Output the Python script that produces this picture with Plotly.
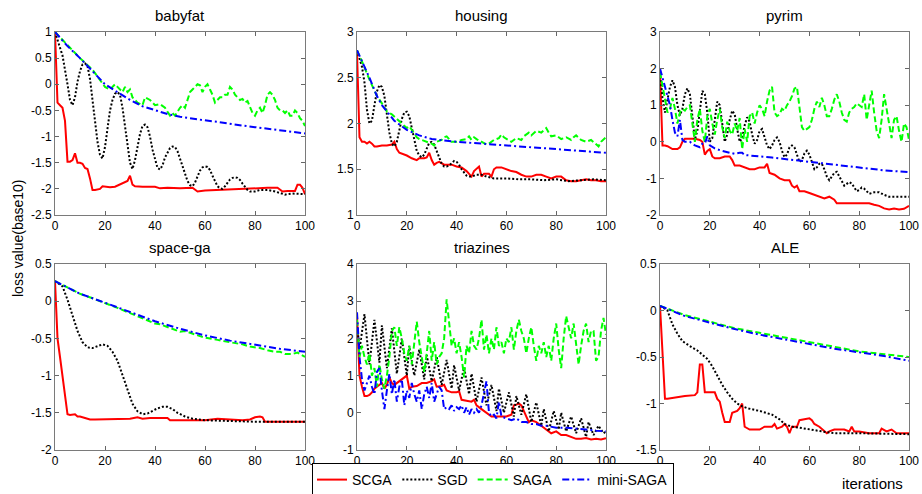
import plotly.graph_objects as go

# ---------------- data (iteration, log10 loss) ----------------
babyfat_scga = [(0,1),(1,-0.35),(2,-0.4),(3,-0.45),(4,-0.7),(5,-1.48),(6,-1.48),(7,-1.45),(8,-1.32),(9,-1.5),(10,-1.5),(11,-1.52),(12,-1.6),(13,-1.62),(14,-1.8),(15,-2.02),(16,-2.02),(18,-2.0),(19,-1.95),(20,-1.96),(22,-1.97),(24,-1.96),(26,-1.92),(28,-1.88),(29,-1.85),(30,-1.75),(31,-1.92),(32,-1.95),(35,-1.96),(40,-1.96),(42,-1.99),(45,-1.98),(50,-1.99),(55,-1.98),(57,-2.05),(60,-2.03),(65,-2.02),(70,-2.0),(75,-2.0),(80,-1.98),(85,-1.98),(89,-1.98),(91,-2.05),(93,-2.04),(96,-2.04),(97,-1.92),(98,-1.92),(99,-1.98),(100,-2.1)]
babyfat_sgd = [(0,1),(3,0.55),(5,0.0),(6,-0.3),(7,-0.4),(8,-0.25),(9,0.05),(10,0.25),(11,0.38),(12,0.4),(13,0.35),(14,0.1),(15,-0.3),(16,-0.7),(17,-1.1),(18,-1.35),(19,-1.42),(20,-1.2),(21,-0.8),(22,-0.5),(23,-0.3),(24,-0.18),(25,-0.15),(26,-0.2),(27,-0.45),(28,-0.8),(29,-1.2),(30,-1.5),(31,-1.62),(32,-1.45),(33,-1.2),(34,-0.95),(35,-0.8),(36,-0.77),(37,-0.82),(38,-1.0),(39,-1.25),(40,-1.45),(41,-1.6),(42,-1.63),(43,-1.55),(44,-1.4),(45,-1.3),(46,-1.22),(47,-1.19),(48,-1.2),(49,-1.28),(50,-1.42),(51,-1.58),(52,-1.72),(53,-1.85),(54,-1.93),(55,-1.95),(56,-1.88),(57,-1.75),(58,-1.65),(59,-1.59),(60,-1.57),(61,-1.58),(62,-1.64),(63,-1.75),(64,-1.85),(65,-1.95),(66,-1.99),(67,-2.0),(68,-1.95),(69,-1.88),(70,-1.82),(71,-1.79),(72,-1.78),(73,-1.79),(74,-1.83),(75,-1.9),(76,-1.96),(77,-2.02),(78,-2.05),(80,-2.05),(82,-2.02),(85,-2.02),(88,-2.05),(90,-2.08),(92,-2.11),(95,-2.09),(98,-2.1),(100,-2.1)]
babyfat_saga = [(0,1),(5,0.75),(10,0.5),(15,0.28),(20,-0.05),(22,-0.1),(24,0.0),(25,-0.05),(26,-0.1),(27,-0.15),(28,-0.05),(29,-0.15),(30,-0.1),(31,-0.25),(33,-0.35),(35,-0.4),(36,-0.25),(38,-0.3),(40,-0.4),(42,-0.38),(44,-0.45),(46,-0.6),(47,-0.55),(48,-0.6),(50,-0.45),(51,-0.4),(52,-0.45),(53,-0.3),(54,-0.15),(55,-0.1),(56,-0.05),(57,0.0),(58,-0.02),(59,-0.15),(60,-0.05),(61,0.0),(62,-0.1),(63,-0.2),(64,-0.35),(65,-0.3),(66,-0.25),(67,-0.25),(68,-0.2),(69,-0.2),(70,-0.05),(71,-0.1),(72,-0.2),(73,-0.25),(74,-0.3),(75,-0.28),(76,-0.35),(77,-0.32),(78,-0.45),(79,-0.55),(80,-0.6),(81,-0.5),(82,-0.45),(83,-0.55),(84,-0.4),(85,-0.2),(86,-0.15),(87,-0.2),(88,-0.3),(89,-0.45),(90,-0.5),(91,-0.5),(92,-0.55),(93,-0.5),(94,-0.6),(95,-0.6),(96,-0.5),(97,-0.55),(98,-0.65),(99,-0.7),(100,-0.8)]
babyfat_mini = [(0,1),(5,0.73),(10,0.5),(15,0.25),(20,0.0),(25,-0.15),(30,-0.3),(35,-0.42),(40,-0.5),(45,-0.57),(50,-0.62),(55,-0.66),(60,-0.69),(65,-0.72),(70,-0.76),(75,-0.79),(80,-0.82),(85,-0.85),(90,-0.88),(95,-0.91),(100,-0.94)]

housing_scga = [(0,2.78),(1,1.85),(2,1.8),(3,1.8),(4,1.78),(5,1.8),(6,1.78),(7,1.75),(8,1.75),(10,1.76),(12,1.76),(14,1.77),(15,1.8),(16,1.72),(17,1.68),(18,1.67),(20,1.65),(22,1.62),(24,1.6),(25,1.62),(27,1.62),(28,1.63),(29,1.68),(30,1.6),(31,1.55),(32,1.57),(33,1.58),(35,1.55),(38,1.55),(40,1.53),(42,1.52),(44,1.48),(46,1.42),(47,1.48),(48,1.5),(49,1.53),(50,1.42),(51,1.45),(53,1.45),(54,1.42),(55,1.5),(56,1.52),(58,1.52),(60,1.5),(62,1.48),(64,1.47),(66,1.44),(68,1.42),(70,1.42),(72,1.44),(74,1.44),(76,1.42),(78,1.4),(80,1.42),(82,1.42),(84,1.38),(86,1.37),(88,1.37),(90,1.38),(92,1.39),(94,1.38),(96,1.38),(98,1.37),(100,1.37)]
housing_sgd = [(0,2.8),(1,2.72),(2,2.62),(3,2.45),(4,2.15),(5,2.0),(6,2.03),(7,2.2),(8,2.35),(9,2.42),(10,2.4),(11,2.3),(12,2.1),(13,1.9),(14,1.78),(15,1.75),(16,1.8),(17,1.92),(18,2.05),(19,2.12),(20,2.13),(21,2.08),(22,1.95),(23,1.8),(24,1.7),(25,1.65),(26,1.63),(27,1.66),(28,1.73),(29,1.79),(30,1.8),(31,1.77),(32,1.7),(33,1.62),(34,1.56),(35,1.53),(36,1.53),(37,1.54),(38,1.57),(39,1.59),(40,1.58),(41,1.55),(42,1.5),(43,1.46),(44,1.43),(45,1.42),(46,1.42),(48,1.44),(50,1.44),(52,1.42),(55,1.4),(60,1.4),(65,1.39),(70,1.39),(75,1.38),(80,1.39),(85,1.37),(90,1.38),(95,1.39),(100,1.38)]
housing_saga = [(0,2.8),(2,2.68),(5,2.48),(8,2.3),(10,2.22),(12,2.13),(14,2.1),(16,2.05),(18,2.0),(20,1.95),(21,1.97),(22,1.93),(24,1.85),(25,1.83),(26,1.82),(28,1.8),(30,1.78),(31,1.76),(32,1.8),(34,1.82),(35,1.85),(36,1.86),(37,1.83),(38,1.8),(40,1.8),(42,1.82),(44,1.83),(45,1.86),(46,1.82),(47,1.85),(48,1.83),(50,1.8),(52,1.77),(53,1.78),(55,1.82),(57,1.84),(58,1.88),(59,1.85),(60,1.83),(62,1.8),(64,1.84),(66,1.82),(67,1.86),(69,1.9),(70,1.87),(72,1.92),(74,1.9),(76,1.95),(77,1.9),(78,1.86),(80,1.87),(82,1.83),(84,1.85),(86,1.82),(87,1.85),(88,1.87),(90,1.82),(92,1.8),(94,1.82),(96,1.77),(97,1.75),(98,1.8),(100,1.85)]
housing_mini = [(0,2.8),(2,2.68),(5,2.5),(8,2.3),(10,2.2),(15,2.03),(20,1.93),(25,1.87),(30,1.83),(40,1.8),(50,1.78),(60,1.76),(70,1.74),(80,1.72),(90,1.7),(100,1.68)]

pyrim_scga = [(0,1.9),(1,-0.1),(2,-0.1),(3,-0.12),(5,-0.2),(7,-0.2),(8,-0.15),(9,0.0),(10,0.08),(12,0.08),(14,0.08),(16,0.05),(17,0.0),(18,-0.35),(19,-0.25),(20,-0.2),(21,-0.4),(22,-0.45),(24,-0.45),(26,-0.4),(28,-0.4),(29,-0.5),(30,-0.65),(32,-0.65),(34,-0.7),(36,-0.75),(38,-0.75),(40,-0.7),(42,-0.7),(43,-0.6),(44,-0.85),(46,-0.9),(48,-1.0),(50,-1.05),(52,-1.05),(53,-1.2),(54,-1.25),(55,-1.2),(56,-1.35),(58,-1.35),(60,-1.4),(62,-1.45),(64,-1.5),(66,-1.55),(68,-1.5),(70,-1.58),(71,-1.68),(74,-1.68),(76,-1.68),(78,-1.66),(82,-1.66),(84,-1.68),(86,-1.72),(88,-1.75),(90,-1.82),(92,-1.85),(94,-1.82),(96,-1.85),(98,-1.83),(100,-1.75)]
pyrim_sgd = [(0,1.9),(1,1.2),(2,0.8),(3,1.2),(4,1.5),(5,1.68),(6,1.5),(7,1.0),(8,0.72),(9,0.9),(10,1.3),(11,1.46),(12,1.3),(13,0.7),(14,0.05),(15,0.3),(16,0.9),(17,1.39),(18,1.3),(19,0.8),(20,0.0),(21,0.1),(22,0.6),(23,1.1),(24,1.0),(25,0.5),(26,0.0),(27,0.2),(28,0.6),(29,0.85),(30,0.75),(31,0.35),(32,0.0),(33,0.1),(34,0.45),(35,0.67),(36,0.55),(37,0.2),(38,-0.05),(39,0.05),(40,0.3),(41,0.35),(42,0.15),(43,-0.1),(44,-0.2),(45,-0.1),(46,0.05),(47,0.12),(48,0.0),(49,-0.25),(50,-0.42),(51,-0.35),(52,-0.15),(53,-0.1),(54,-0.15),(55,-0.35),(56,-0.55),(57,-0.5),(58,-0.32),(59,-0.24),(60,-0.35),(61,-0.55),(62,-0.75),(63,-0.7),(64,-0.6),(65,-0.6),(66,-0.75),(67,-0.95),(68,-1.05),(69,-0.95),(70,-0.85),(71,-0.82),(72,-0.95),(73,-1.1),(74,-1.2),(75,-1.15),(76,-1.1),(77,-1.14),(78,-1.25),(79,-1.35),(80,-1.32),(81,-1.25),(82,-1.28),(83,-1.35),(84,-1.42),(86,-1.38),(88,-1.38),(90,-1.45),(92,-1.5),(95,-1.5),(100,-1.5)]
pyrim_saga = [(0,1.9),(1,1.5),(2,1.2),(3,0.8),(4,0.9),(5,1.2),(6,0.9),(7,0.5),(8,0.8),(9,0.9),(10,0.85),(11,0.95),(12,1.0),(13,0.5),(14,0.0),(15,0.6),(16,0.9),(17,0.3),(18,0.0),(19,0.7),(20,0.9),(21,0.5),(22,0.2),(23,0.6),(24,0.9),(25,0.4),(26,0.1),(27,0.55),(28,0.3),(29,0.2),(30,0.5),(31,0.3),(32,0.65),(33,-0.2),(34,0.35),(35,0.0),(36,0.7),(37,0.8),(38,0.5),(39,0.8),(40,1.0),(41,0.9),(42,0.7),(43,1.1),(44,1.4),(45,1.5),(46,0.8),(47,0.7),(48,0.75),(49,0.9),(50,0.85),(51,1.0),(52,1.1),(53,1.25),(54,1.45),(55,1.5),(56,1.0),(57,0.4),(58,0.3),(59,0.35),(60,0.4),(61,0.6),(62,0.9),(63,1.1),(64,0.95),(65,1.2),(66,1.0),(67,0.7),(68,0.7),(69,0.9),(70,1.15),(71,1.3),(72,1.1),(73,0.8),(74,0.6),(75,0.55),(76,0.8),(77,0.9),(78,0.95),(79,1.05),(80,1.0),(81,0.95),(82,1.3),(83,0.6),(84,1.0),(85,1.4),(86,0.8),(87,0.3),(88,0.1),(89,0.6),(90,1.3),(91,0.9),(92,0.4),(93,0.1),(94,0.6),(95,0.7),(96,0.3),(97,0.0),(98,0.5),(99,0.4),(100,0.05)]
pyrim_mini = [(0,2.0),(2,1.5),(4,1.0),(5,0.6),(6,0.25),(7,0.15),(8,0.6),(9,0.05),(10,0.0),(12,0.0),(14,-0.1),(16,-0.15),(17,-0.05),(18,-0.05),(19,0.15),(20,-0.1),(22,-0.18),(25,-0.25),(30,-0.33),(32,-0.3),(33,-0.3),(34,-0.36),(36,-0.38),(40,-0.4),(45,-0.43),(50,-0.47),(55,-0.5),(60,-0.55),(70,-0.63),(80,-0.7),(90,-0.78),(100,-0.83)]

spacega_scga = [(0,0.27),(1,-0.5),(2,-0.75),(3,-1.0),(4,-1.3),(5,-1.52),(6,-1.53),(7,-1.53),(8,-1.52),(9,-1.55),(10,-1.55),(12,-1.57),(14,-1.59),(16,-1.59),(20,-1.59),(25,-1.58),(30,-1.58),(33,-1.56),(35,-1.58),(38,-1.57),(42,-1.57),(45,-1.57),(46,-1.6),(50,-1.6),(55,-1.6),(60,-1.6),(65,-1.58),(70,-1.59),(75,-1.6),(78,-1.59),(80,-1.56),(82,-1.55),(83,-1.56),(84,-1.62),(90,-1.62),(100,-1.62)]
spacega_sgd = [(0,0.27),(3,0.2),(5,0.02),(7,-0.2),(9,-0.4),(11,-0.55),(13,-0.62),(15,-0.63),(17,-0.6),(19,-0.58),(21,-0.6),(23,-0.68),(25,-0.8),(27,-1.0),(29,-1.2),(31,-1.38),(33,-1.48),(35,-1.52),(37,-1.51),(39,-1.47),(41,-1.44),(43,-1.42),(45,-1.42),(47,-1.45),(49,-1.5),(52,-1.55),(55,-1.58),(60,-1.6),(65,-1.6),(70,-1.61),(80,-1.62),(100,-1.62)]
spacega_saga = [(0,0.27),(5,0.19),(10,0.1),(15,0.04),(20,-0.02),(25,-0.09),(30,-0.16),(35,-0.23),(38,-0.28),(40,-0.3),(42,-0.31),(45,-0.35),(48,-0.38),(50,-0.41),(52,-0.4),(55,-0.44),(58,-0.47),(60,-0.49),(62,-0.5),(65,-0.52),(68,-0.54),(70,-0.55),(72,-0.57),(75,-0.58),(78,-0.61),(80,-0.62),(82,-0.63),(85,-0.66),(88,-0.68),(90,-0.68),(92,-0.71),(95,-0.71),(97,-0.69),(100,-0.75)]
spacega_mini = [(0,0.27),(10,0.1),(20,-0.02),(30,-0.15),(40,-0.27),(50,-0.37),(60,-0.46),(70,-0.53),(80,-0.59),(90,-0.64),(100,-0.68)]

triazines_scga = [(0,2.6),(1,1.0),(2,0.7),(3,0.45),(4,0.45),(5,0.48),(6,0.55),(7,0.65),(8,0.7),(9,0.75),(10,0.8),(11,0.65),(12,0.75),(13,0.95),(14,0.8),(15,0.75),(16,0.8),(17,0.85),(18,0.9),(19,0.95),(20,1.0),(21,0.65),(22,0.7),(24,0.72),(26,0.8),(28,0.8),(30,0.85),(31,0.9),(32,0.7),(34,0.72),(35,0.75),(36,0.6),(38,0.55),(40,0.55),(41,0.58),(42,0.35),(44,0.33),(46,0.3),(47,0.35),(48,0.2),(50,0.1),(52,0.0),(54,-0.1),(56,-0.1),(58,-0.1),(60,-0.1),(62,-0.05),(63,0.2),(64,0.22),(65,0.25),(66,0.2),(68,-0.1),(69,-0.25),(70,-0.2),(72,-0.25),(74,-0.35),(76,-0.45),(78,-0.55),(80,-0.5),(82,-0.6),(84,-0.6),(86,-0.65),(88,-0.7),(90,-0.7),(92,-0.68),(94,-0.72),(96,-0.7),(98,-0.72),(100,-0.68)]
triazines_sgd = [(0,2.4),(1,1.7),(3,2.65),(5,1.3),(7,2.5),(9,1.35),(10,2.35),(12,1.2),(14,2.27),(16,1.05),(18,2.0),(20,1.0),(21,1.8),(23,1.0),(25,1.7),(27,0.9),(28,1.55),(30,0.85),(32,1.5),(34,0.75),(36,1.42),(38,0.65),(39,1.28),(41,0.6),(43,1.22),(45,0.5),(46,1.05),(48,0.3),(50,0.95),(52,0.2),(54,0.75),(56,0.05),(57,0.65),(59,0.0),(61,0.55),(63,-0.1),(64,0.45),(66,-0.05),(68,0.5),(70,-0.25),(72,0.28),(74,-0.35),(75,0.1),(77,-0.5),(79,0.05),(81,-0.45),(82,0.0),(84,-0.5),(86,-0.1),(88,-0.55),(90,-0.15),(92,-0.65),(93,-0.25),(95,-0.6),(97,-0.35),(99,-0.55),(100,-0.5)]
triazines_saga = [(0,2.5),(1,1.5),(2,1.8),(3,1.5),(4,1.3),(5,1.6),(6,1.0),(7,1.2),(8,0.7),(9,1.3),(10,0.9),(11,0.65),(12,1.0),(13,1.5),(14,2.2),(15,2.3),(16,1.8),(17,2.3),(18,2.0),(19,1.6),(20,1.4),(21,1.8),(22,1.3),(23,1.9),(24,2.45),(25,1.9),(26,1.5),(27,1.1),(28,1.6),(29,2.2),(30,1.4),(31,1.9),(32,1.3),(33,1.5),(34,1.6),(35,2.0),(36,3.05),(37,2.5),(38,1.8),(39,2.0),(40,1.6),(41,1.9),(42,1.5),(43,0.95),(44,1.8),(45,1.6),(46,2.2),(47,1.8),(48,1.7),(49,2.0),(50,2.5),(51,1.7),(52,2.1),(53,1.6),(54,2.0),(55,1.7),(56,2.3),(57,1.8),(58,1.9),(59,1.6),(60,2.0),(61,1.9),(62,2.3),(63,1.7),(64,2.2),(65,2.5),(66,2.2),(67,2.0),(68,1.6),(69,2.0),(70,2.3),(71,1.8),(72,1.4),(73,1.8),(74,1.6),(75,1.9),(76,1.5),(77,1.8),(78,1.4),(79,2.0),(80,2.4),(81,1.7),(82,1.2),(83,2.0),(84,2.6),(85,2.3),(86,2.0),(87,2.4),(88,1.8),(89,1.3),(90,1.8),(91,2.2),(92,2.4),(93,1.9),(94,2.2),(95,2.2),(96,1.4),(97,1.5),(98,2.2),(99,2.55),(100,2.1)]
triazines_mini = [(0,2.7),(1,1.5),(2,0.9),(3,0.6),(4,0.8),(5,1.0),(6,0.7),(7,0.5),(8,1.1),(9,1.2),(10,0.6),(11,0.1),(12,0.6),(13,1.05),(14,0.5),(15,0.9),(16,0.3),(17,0.7),(18,0.9),(19,0.2),(20,0.6),(21,0.4),(22,0.8),(23,0.5),(24,0.3),(25,0.6),(26,0.1),(27,0.5),(28,0.7),(29,0.4),(30,0.8),(31,0.3),(32,0.5),(33,0.7),(34,0.6),(35,0.1),(36,0.15),(37,0.1),(38,0.2),(39,0.05),(40,0.15),(41,0.1),(42,0.2),(43,0.0),(44,0.15),(45,-0.05),(46,0.1),(47,0.0),(48,0.1),(49,0.0),(50,0.2),(51,0.5),(52,0.85),(53,0.0),(54,-0.1),(55,-0.05),(56,-0.15),(57,0.3),(58,-0.1),(60,-0.15),(62,-0.2),(64,-0.15),(66,-0.25),(68,-0.25),(70,-0.3),(72,-0.3),(74,-0.35),(76,-0.35),(78,-0.38),(80,-0.4),(84,-0.4),(88,-0.42),(92,-0.45),(96,-0.48),(100,-0.5)]

ale_scga = [(0,0.05),(1,-0.5),(2,-0.95),(3,-0.95),(5,-0.94),(10,-0.92),(14,-0.91),(15,-0.88),(16,-0.58),(17,-0.58),(18,-0.88),(20,-0.88),(22,-0.88),(23,-0.95),(24,-0.98),(25,-1.1),(26,-1.2),(28,-1.2),(29,-1.1),(31,-1.08),(32,-1.05),(33,-1.0),(34,-1.25),(36,-1.28),(40,-1.28),(42,-1.25),(45,-1.25),(46,-1.22),(47,-1.27),(49,-1.25),(50,-1.22),(51,-1.25),(52,-1.32),(53,-1.25),(55,-1.25),(56,-1.18),(58,-1.17),(60,-1.16),(61,-1.18),(62,-1.22),(64,-1.25),(66,-1.3),(67,-1.32),(68,-1.3),(70,-1.28),(74,-1.28),(76,-1.3),(77,-1.25),(78,-1.3),(80,-1.3),(84,-1.32),(88,-1.32),(89,-1.27),(91,-1.3),(93,-1.28),(95,-1.32),(100,-1.32)]
ale_sgd = [(0,0.05),(3,0.0),(5,-0.15),(7,-0.25),(9,-0.33),(11,-0.37),(13,-0.4),(15,-0.43),(17,-0.47),(19,-0.52),(21,-0.6),(23,-0.7),(25,-0.8),(27,-0.88),(29,-0.95),(31,-1.0),(33,-1.03),(35,-1.05),(40,-1.08),(45,-1.12),(48,-1.17),(50,-1.22),(53,-1.25),(56,-1.26),(60,-1.28),(65,-1.3),(70,-1.32),(80,-1.32),(100,-1.33)]
ale_saga = [(0,0.05),(10,-0.05),(20,-0.12),(30,-0.19),(40,-0.24),(50,-0.29),(60,-0.34),(70,-0.39),(80,-0.44),(90,-0.47),(100,-0.5)]
ale_mini = [(0,0.05),(10,-0.06),(20,-0.13),(30,-0.2),(40,-0.26),(50,-0.31),(60,-0.36),(70,-0.41),(80,-0.45),(90,-0.49),(100,-0.54)]

titles = ["babyfat", "housing", "pyrim", "space-ga", "triazines", "ALE"]
method_names = ["SCGA", "SGD", "SAGA", "mini-SAGA"]
x_ticks = [0, 20, 40, 60, 80, 100]
y_ticks = [
    [-2.5, -2, -1.5, -1, -0.5, 0, 0.5, 1],
    [1, 1.5, 2, 2.5, 3],
    [-2, -1, 0, 1, 2, 3],
    [-2, -1.5, -1, -0.5, 0, 0.5],
    [-1, 0, 1, 2, 3, 4],
    [-1.5, -1, -0.5, 0, 0.5],
]
y_tick_labels = [
    ["-2.5", "-2", "-1.5", "-1", "-0.5", "0", "0.5", "1"],
    ["1", "1.5", "2", "2.5", "3"],
    ["-2", "-1", "0", "1", "2", "3"],
    ["-2", "-1.5", "-1", "-0.5", "0", "0.5"],
    ["-1", "0", "1", "2", "3", "4"],
    ["-1.5", "-1", "-0.5", "0", "0.5"],
]

series = [
    [babyfat_scga, babyfat_sgd, babyfat_saga, babyfat_mini],
    [housing_scga, housing_sgd, housing_saga, housing_mini],
    [pyrim_scga, pyrim_sgd, pyrim_saga, pyrim_mini],
    [spacega_scga, spacega_sgd, spacega_saga, spacega_mini],
    [triazines_scga, triazines_sgd, triazines_saga, triazines_mini],
    [ale_scga, ale_sgd, ale_saga, ale_mini],
]

# ---------------- styling ----------------
W, H = 922, 494
FONT = "Liberation Sans, Arial, sans-serif"
styles = [
    dict(color="#ff0000", width=2, dash="solid"),
    dict(color="#000000", width=2, dash="2px,2px"),
    dict(color="#00ff00", width=2, dash="6px,3px"),
    dict(color="#0000ff", width=2, dash="7px,3px,2px,3px"),
]
# pixel boxes of the panels (left, right, top, bottom)
col_px = [(55, 305), (357, 606), (660, 909)]
row_px = [(32, 215), (264, 450)]

fig = go.Figure()
layout = dict(
    width=W, height=H,
    margin=dict(l=0, r=0, t=0, b=0, pad=0, autoexpand=False),
    paper_bgcolor="white", plot_bgcolor="white",
    font=dict(family=FONT, size=12, color="black"),
    showlegend=True,
    legend=dict(orientation="h", x=312 / W, y=1 - 480 / H, xanchor="left", yanchor="middle",
                bordercolor="black", borderwidth=1, bgcolor="white",
                font=dict(family=FONT, size=14, color="black"),
                itemwidth=30, tracegroupgap=0),
)
annotations = []
for i in range(6):
    r, c = divmod(i, 3)
    xl, xr = col_px[c]
    yt, yb = row_px[r]
    ax = "" if i == 0 else str(i + 1)
    for k, data in enumerate(series[i]):
        xs = [p[0] for p in data]
        ys = [p[1] for p in data]
        fig.add_trace(go.Scatter(
            x=xs, y=ys, mode="lines", name=method_names[k], line=styles[k],
            xaxis="x" + ax, yaxis="y" + ax, legendgroup=method_names[k],
            showlegend=(i == 0)))
    common = dict(ticks="inside", ticklen=4, tickcolor="#666666", tickwidth=1,
                  showline=True, linecolor="#7a7a7a", linewidth=1, mirror="ticks",
                  showgrid=False, zeroline=False, automargin=False,
                  tickfont=dict(family=FONT, size=12, color="black"))
    layout["xaxis" + ax] = dict(domain=[xl / W, xr / W], range=[0, 100],
                                tickvals=x_ticks, ticktext=[str(t) for t in x_ticks],
                                anchor="y" + ax, **common)
    layout["yaxis" + ax] = dict(domain=[1 - yb / H, 1 - yt / H],
                                range=[y_ticks[i][0], y_ticks[i][-1]],
                                tickvals=y_ticks[i], ticktext=y_tick_labels[i],
                                anchor="x" + ax, **common)
    annotations.append(dict(text=titles[i], x=(xl + xr) / 2 / W, y=1 - (yt - 16) / H,
                            xref="paper", yref="paper", showarrow=False,
                            font=dict(family=FONT, size=15, color="black", weight="normal"),
                            xanchor="center", yanchor="middle"))

annotations.append(dict(text="loss value(base10)", x=18 / W, y=1 - 238 / H,
                        xref="paper", yref="paper", showarrow=False, textangle=-90,
                        font=dict(family=FONT, size=14, color="black"),
                        xanchor="center", yanchor="middle"))
annotations.append(dict(text="iterations", x=872 / W, y=1 - 483 / H,
                        xref="paper", yref="paper", showarrow=False,
                        font=dict(family=FONT, size=15, color="black"),
                        xanchor="center", yanchor="middle"))
layout["annotations"] = annotations
fig.update_layout(**layout)
fig.write_html(
    "out.html",
    config={"displayModeBar": False},
    post_script="document.body.style.margin='0';document.body.style.overflow='hidden';",
)
